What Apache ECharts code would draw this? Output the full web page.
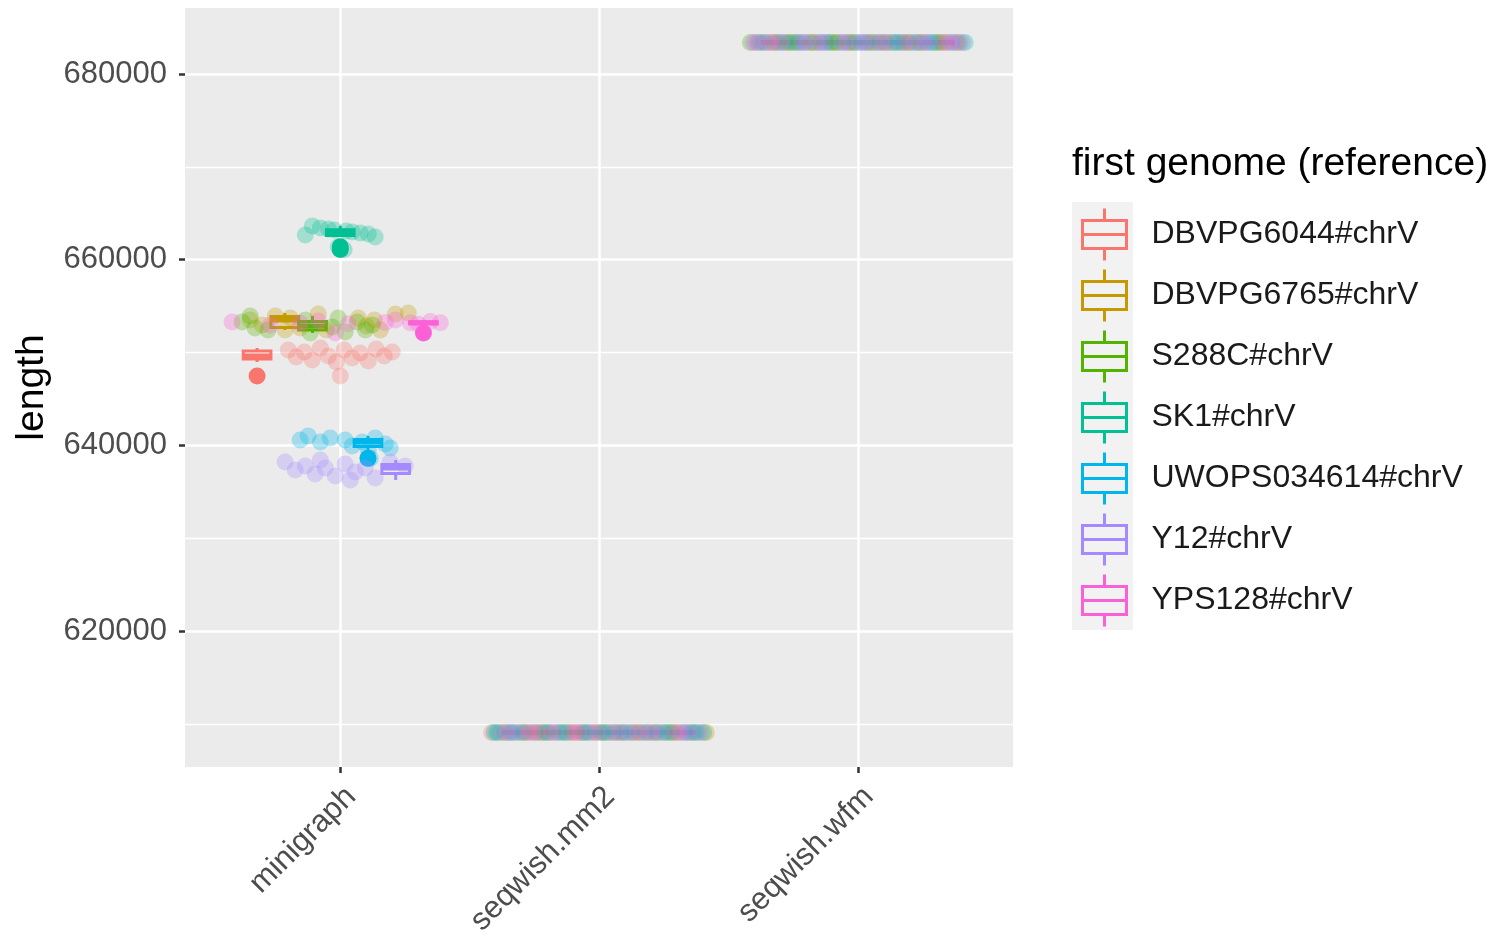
<!DOCTYPE html>
<html>
<head>
<meta charset="utf-8">
<script src="https://cdn.jsdelivr.net/npm/echarts@6/dist/echarts.min.js"></script>
<style>
  html, body { margin: 0; padding: 0; background: #ffffff; }
  #chart { width: 1491px; height: 936px; }
</style>
</head>
<body>
<div id="chart"></div>
<script>
// Graph construction methods (x categories) and the first genome used as reference
const methods = ['minigraph', 'seqwish.mm2', 'seqwish.wfm'];
const genomes = ['DBVPG6044#chrV', 'DBVPG6765#chrV', 'S288C#chrV', 'SK1#chrV',
                 'UWOPS034614#chrV', 'Y12#chrV', 'YPS128#chrV'];
const yTickValues = [620000, 640000, 660000, 680000];

// Graph length per first genome, one list per method: [minigraph, seqwish.mm2, seqwish.wfm]
const lengthsDBVPG6044 = [
  [650275, 649521, 650059, 649198, 650490, 649629, 648982, 650275, 649413, 649952, 649090, 650383, 649629, 650059, 647475],
  [609069, 609069, 609069, 609069, 609069, 609069, 609069, 609069, 609069, 609069, 609069, 609069],
  [683400, 683400, 683400, 683400, 683400, 683400, 683400, 683400, 683400, 683400, 683400, 683400]
];
const lengthsDBVPG6765 = [
  [653506, 652967, 653936, 653721, 652644, 654152, 653721, 652859, 653506, 652429, 654152, 654260, 652429, 652429],
  [609069, 609069, 609069, 609069, 609069, 609069, 609069, 609069, 609069, 609069, 609069, 609069],
  [683400, 683400, 683400, 683400, 683400, 683400, 683400, 683400, 683400, 683400, 683400, 683400]
];
const lengthsS288C = [
  [653290, 652644, 652429, 652106, 652752, 652213, 653290, 652429, 653506, 653721, 653936, 652967],
  [609069, 609069, 609069, 609069, 609069, 609069, 609069, 609069, 609069, 609069, 609069, 609069],
  [683400, 683400, 683400, 683400, 683400, 683400, 683400, 683400, 683400, 683400, 683400, 683400]
];
const lengthsSK1 = [
  [663630, 663410, 663300, 663200, 663090, 662980, 662880, 662770, 662660, 662450, 661400, 661100],
  [609069, 609069, 609069, 609069, 609069, 609069, 609069, 609069, 609069, 609069, 609069, 609069],
  [683400, 683400, 683400, 683400, 683400, 683400, 683400, 683400, 683400, 683400, 683400, 683400]
];
const lengthsUWOPS034614 = [
  [640582, 641013, 640366, 640797, 640582, 639936, 640366, 640797, 640151, 639720, 639505, 638600],
  [609069, 609069, 609069, 609069, 609069, 609069, 609069, 609069, 609069, 609069, 609069, 609069],
  [683400, 683400, 683400, 683400, 683400, 683400, 683400, 683400, 683400, 683400, 683400, 683400]
];
const lengthsY12 = [
  [638212, 637351, 637782, 636920, 637566, 636705, 637997, 637136, 637566, 636490, 638212, 637782, 638428, 636274],
  [609069, 609069, 609069, 609069, 609069, 609069, 609069, 609069, 609069, 609069, 609069, 609069],
  [683400, 683400, 683400, 683400, 683400, 683400, 683400, 683400, 683400, 683400, 683400, 683400]
];
const lengthsYPS128 = [
  [653300, 653200, 653150, 653400, 653100, 653250, 653050, 653350, 652950, 653500, 652100, 653200],
  [609069, 609069, 609069, 609069, 609069, 609069, 609069, 609069, 609069, 609069, 609069, 609069],
  [683400, 683400, 683400, 683400, 683400, 683400, 683400, 683400, 683400, 683400, 683400, 683400]
];

// Horizontal swarm offset of each point from its method centre (in category units), same order as above
const swarmDBVPG6044 = [
  [-0.201, -0.170, -0.139, -0.108, -0.077, -0.046, -0.015, 0.015, 0.046, 0.077, 0.108, 0.139, 0.170, 0.201, 0.000],
  [-0.415, -0.325, -0.265, -0.175, -0.085, -0.035, 0.055, 0.105, 0.195, 0.245, 0.325, 0.385],
  [-0.375, -0.315, -0.255, -0.165, -0.115, -0.025, 0.045, 0.115, 0.165, 0.235, 0.315, 0.395]
];
const swarmDBVPG6765 = [
  [-0.348, -0.302, -0.251, -0.193, -0.155, -0.085, 0.070, 0.101, 0.132, 0.155, 0.213, 0.263, -0.054, -0.213],
  [-0.385, -0.305, -0.225, -0.145, -0.105, -0.015, 0.035, 0.135, 0.175, 0.265, 0.305, 0.415],
  [-0.355, -0.275, -0.235, -0.185, -0.095, -0.075, -0.005, 0.075, 0.145, 0.205, 0.295, 0.345]
];
const swarmS288C = [
  [-0.379, -0.329, -0.279, -0.116, -0.031, 0.019, 0.066, 0.097, -0.135, -0.008, -0.348, 0.124],
  [-0.365, -0.285, -0.245, -0.205, -0.125, -0.055, 0.015, 0.085, 0.155, 0.225, 0.285, 0.365],
  [-0.415, -0.325, -0.265, -0.175, -0.085, -0.035, 0.055, 0.105, 0.195, 0.245, 0.325, 0.385]
];
const swarmSK1 = [
  [-0.108, -0.077, -0.046, -0.023, 0.023, 0.046, 0.077, 0.108, -0.135, 0.135, -0.008, 0.015],
  [-0.405, -0.345, -0.195, -0.155, -0.065, 0.005, 0.065, 0.125, 0.215, 0.275, 0.355, 0.405],
  [-0.385, -0.305, -0.225, -0.145, -0.105, -0.015, 0.035, 0.135, 0.175, 0.265, 0.305, 0.415]
];
const swarmUWOPS034614 = [
  [-0.155, -0.124, -0.077, -0.039, 0.019, 0.046, 0.085, 0.135, 0.174, 0.193, 0.108, 0.116],
  [-0.395, -0.335, -0.295, -0.215, -0.135, -0.045, 0.025, 0.095, 0.185, 0.255, 0.335, 0.375],
  [-0.365, -0.285, -0.245, -0.205, -0.125, -0.055, 0.015, 0.085, 0.155, 0.225, 0.285, 0.365]
];
const swarmY12 = [
  [-0.213, -0.174, -0.135, -0.097, -0.058, -0.019, 0.019, 0.058, 0.097, 0.135, 0.193, 0.251, -0.077, 0.039],
  [-0.375, -0.315, -0.255, -0.165, -0.115, -0.025, 0.045, 0.115, 0.165, 0.235, 0.315, 0.395],
  [-0.405, -0.345, -0.195, -0.155, -0.065, 0.005, 0.065, 0.125, 0.215, 0.275, 0.355, 0.405]
];
const swarmYPS128 = [
  [-0.418, 0.387, -0.155, -0.085, 0.031, 0.174, 0.302, 0.348, -0.271, 0.213, -0.019, 0.271],
  [-0.355, -0.275, -0.235, -0.185, -0.095, -0.075, -0.005, 0.075, 0.145, 0.205, 0.295, 0.345],
  [-0.395, -0.335, -0.295, -0.215, -0.135, -0.045, 0.025, 0.095, 0.185, 0.255, 0.335, 0.375]
];

const lengthsByGenome = [lengthsDBVPG6044, lengthsDBVPG6765, lengthsS288C, lengthsSK1,
                         lengthsUWOPS034614, lengthsY12, lengthsYPS128];
const swarmByGenome = [swarmDBVPG6044, swarmDBVPG6765, swarmS288C, swarmSK1,
                       swarmUWOPS034614, swarmY12, swarmYPS128];

// ggplot2 default hue palette for seven groups
const genomeColors = ['#F8766D', '#C49A00', '#53B400', '#00C094', '#00B6EB', '#A58AFF', '#FB61D7'];

const FONT = "'Liberation Sans', Arial, Helvetica, sans-serif";
const DODGE_WIDTH = 0.75;
const boxWidth = DODGE_WIDTH / genomes.length;
// discrete x positions 1..n, with 0.6 units of room on each side
const methodPositions = methods.map((m, i) => i + 1);

// Tukey box statistics (type-7 quantiles, 1.5 IQR whiskers)
function quantile(sorted, p) {
  const h = (sorted.length - 1) * p;
  const lo = Math.floor(h);
  const hiVal = lo + 1 < sorted.length ? sorted[lo + 1] : sorted[lo];
  return sorted[lo] + (h - lo) * (hiVal - sorted[lo]);
}
function boxStats(values) {
  const s = values.slice().sort((a, b) => a - b);
  const q1 = quantile(s, 0.25), med = quantile(s, 0.5), q3 = quantile(s, 0.75);
  const iqr = q3 - q1;
  const lower = q1 - 1.5 * iqr, upper = q3 + 1.5 * iqr;
  const inside = s.filter(v => v >= lower && v <= upper);
  return {
    low: inside[0], q1, med, q3, high: inside[inside.length - 1],
    outliers: s.filter(v => v < lower || v > upper)
  };
}

// y range: data extent widened by 5% on each side
const allLengths = lengthsByGenome.flat(2);
const dataMin = Math.min(...allLengths), dataMax = Math.max(...allLengths);
const pad = (dataMax - dataMin) * 0.05;

const POINT_SIZE = 17;

const series = [];
genomes.forEach((name, g) => {
  const color = genomeColors[g];
  const dodge = (g - (genomes.length - 1) / 2) * boxWidth;
  const stats = methods.map((m, i) => boxStats(lengthsByGenome[g][i]));

  // box and whiskers
  series.push({
    type: 'custom',
    name: name,
    z: 2,
    silent: true,
    itemStyle: { color: color, borderColor: color },
    encode: { x: 0, y: [1, 2, 3, 4, 5] },
    data: stats.map((s, i) => [methodPositions[i], s.low, s.q1, s.med, s.q3, s.high]),
    renderItem: function (params, api) {
      const cx = api.value(0) + dodge;
      const half = boxWidth / 2;
      const lowP = api.coord([cx, api.value(1)]);
      const q1P = api.coord([cx, api.value(2)]);
      const q3P = api.coord([cx, api.value(4)]);
      const highP = api.coord([cx, api.value(5)]);
      const boxTL = api.coord([cx - half, api.value(4)]);
      const boxBR = api.coord([cx + half, api.value(2)]);
      const medL = api.coord([cx - half, api.value(3)]);
      const medR = api.coord([cx + half, api.value(3)]);
      const style = { stroke: color, lineWidth: 3, fill: null };
      return {
        type: 'group',
        children: [
          { type: 'line', shape: { x1: lowP[0], y1: lowP[1], x2: q1P[0], y2: q1P[1] }, style: style },
          { type: 'line', shape: { x1: q3P[0], y1: q3P[1], x2: highP[0], y2: highP[1] }, style: style },
          { type: 'rect', shape: { x: boxTL[0], y: boxTL[1], width: boxBR[0] - boxTL[0], height: boxBR[1] - boxTL[1] }, style: style },
          { type: 'line', shape: { x1: medL[0], y1: medL[1], x2: medR[0], y2: medR[1] }, style: { stroke: color, lineWidth: 5, fill: null } }
        ]
      };
    }
  });

  // outliers of the boxplot, at the dodged position
  const outlierData = [];
  stats.forEach((s, i) => s.outliers.forEach(v => outlierData.push([methodPositions[i] + dodge, v])));
  series.push({
    type: 'scatter',
    name: name,
    z: 3,
    silent: true,
    symbolSize: POINT_SIZE,
    itemStyle: { color: color, opacity: 1 },
    data: outlierData
  });

  // individual graphs, swarmed around the method centre
  const pointData = [];
  methods.forEach((m, i) => {
    lengthsByGenome[g][i].forEach((v, k) => pointData.push([methodPositions[i] + swarmByGenome[g][i][k], v]));
  });
  series.push({
    type: 'scatter',
    name: name,
    z: 4,
    silent: true,
    symbolSize: POINT_SIZE,
    itemStyle: { color: color, opacity: 0.3 },
    data: pointData
  });
});

// legend key: box with whiskers and median
const boxIcon = 'path://M24,0L24,12M2,12L46,12L46,40L2,40ZM2,26L46,26M24,40L24,52';

const option = {
  backgroundColor: '#ffffff',
  animation: false,
  textStyle: { fontFamily: FONT },
  grid: {
    left: 185, top: 8, width: 828, height: 759,
    containLabel: false,
    outerBoundsMode: 'none',
    show: true, backgroundColor: '#EBEBEB', borderWidth: 0
  },
  xAxis: {
    type: 'value',
    min: 0.4,
    max: 3.6,
    splitNumber: 3,
    axisLine: { show: false },
    axisTick: { show: true, length: 6, customValues: methodPositions, lineStyle: { color: '#333333', width: 2.5 } },
    axisLabel: {
      rotate: 45, margin: 14, fontSize: 31, color: '#4D4D4D', fontFamily: FONT,
      verticalAlign: 'top',
      customValues: methodPositions,
      formatter: v => methods[Math.round(v) - 1]
    },
    splitLine: { show: true, lineStyle: { color: '#ffffff', width: 2.5 } }
  },
  yAxis: {
    type: 'value',
    min: dataMin - pad,
    max: dataMax + pad,
    splitNumber: 4,
    name: 'length',
    nameLocation: 'middle',
    nameRotate: 90,
    nameGap: 133,
    nameTextStyle: { fontSize: 39, color: '#000000', fontFamily: FONT },
    axisLine: { show: false },
    axisTick: { show: true, length: 6, customValues: yTickValues, lineStyle: { color: '#333333', width: 2.5 } },
    axisLabel: {
      margin: 18, fontSize: 31, color: '#4D4D4D', fontFamily: FONT,
      customValues: yTickValues,
      formatter: v => String(Math.round(v))
    },
    splitLine: { show: true, lineStyle: { color: '#ffffff', width: 2.5 } },
    minorTick: { show: false, splitNumber: 2 },
    minorSplitLine: { show: true, lineStyle: { color: '#ffffff', width: 1.3 } }
  },
  legend: {
    orient: 'vertical',
    left: 1076,
    top: 202,
    itemWidth: 50,
    itemHeight: 52,
    itemGap: 6,
    selectedMode: false,
    textStyle: { fontSize: 32, color: '#1A1A1A', fontFamily: FONT, padding: [0, 0, 0, 17] },
    data: genomes.map((name, g) => ({
      name: name,
      icon: boxIcon,
      itemStyle: { color: 'transparent', borderColor: genomeColors[g], borderWidth: 3 }
    }))
  },
  graphic: [
    {
      type: 'rect',
      left: 1072, top: 202, z: -1,
      shape: { width: 61, height: 428 },
      style: { fill: '#F2F2F2' }
    },
    {
      type: 'text',
      left: 1072, top: 145,
      style: { text: 'first genome (reference)', fontSize: 39, fill: '#000000', fontFamily: FONT }
    }
  ],
  series: series
};

const chart = echarts.init(document.getElementById('chart'), null, { renderer: 'canvas' });
chart.setOption(option);
</script>
</body>
</html>
